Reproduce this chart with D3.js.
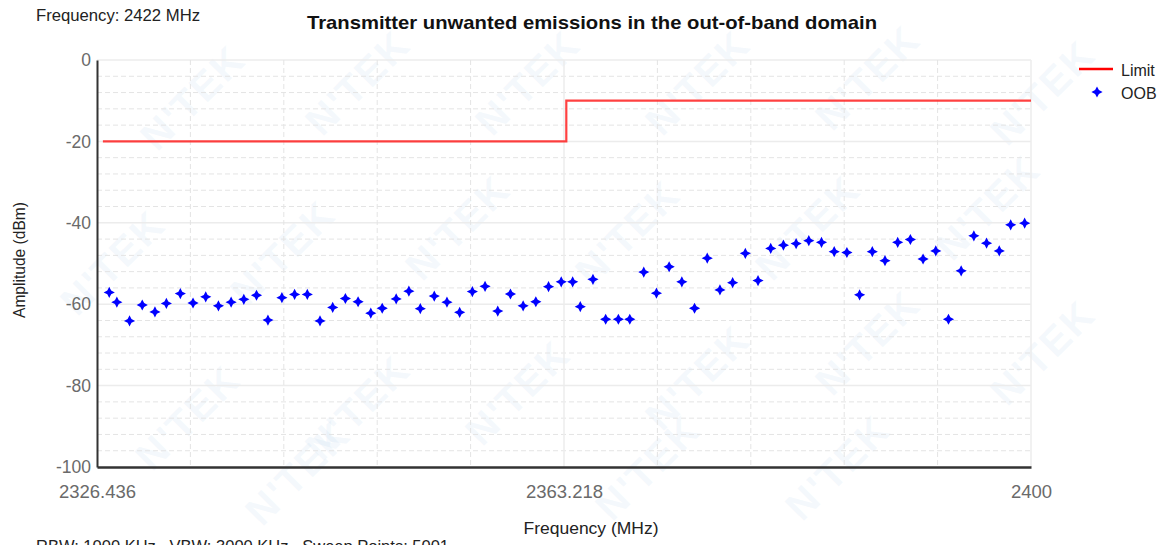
<!DOCTYPE html>
<html>
<head>
<meta charset="utf-8">
<script src="https://cdn.jsdelivr.net/npm/d3@7"></script>
<style>
  html, body { margin: 0; padding: 0; background: #fff; }
  svg { display: block; font-family: "Liberation Sans", Arial, sans-serif; }
  text { white-space: pre; }
</style>
</head>
<body>
<svg id="chart" width="1171" height="545"></svg>
<script>
// Measured OOB peak frequencies (MHz) and amplitudes (dBm)
const oobFreq = [
  2327.4, 2328.0, 2329.0, 2330.0, 2331.0, 2331.9, 2333.0, 2334.0, 2335.0, 2336.0,
  2337.0, 2338.0, 2339.0, 2339.9, 2341.0, 2342.0, 2343.0, 2344.0, 2345.0, 2346.0,
  2347.0, 2348.0, 2348.9, 2350.0, 2351.0, 2351.9, 2353.0, 2354.0, 2355.0, 2356.0,
  2357.0, 2358.0, 2359.0, 2360.0, 2361.0, 2362.0, 2363.0, 2363.9, 2364.5, 2365.5,
  2366.5, 2367.5, 2368.4, 2369.5, 2370.5, 2371.5, 2372.5, 2373.5, 2374.5, 2375.5,
  2376.5, 2377.5, 2378.5, 2379.5, 2380.5, 2381.5, 2382.5, 2383.5, 2384.5, 2385.5,
  2386.5, 2387.5, 2388.5, 2389.5, 2390.5, 2391.5, 2392.5, 2393.5, 2394.5, 2395.5,
  2396.5, 2397.5, 2398.4, 2399.5
];
const oobAmp = [
  -57.1, -59.5, -64.1, -60.2, -61.9, -59.8, -57.4, -59.7, -58.2, -60.4,
  -59.5, -58.8, -57.8, -63.9, -58.4, -57.6, -57.6, -64.1, -60.8, -58.6,
  -59.4, -62.2, -61.0, -58.7, -56.8, -61.1, -58.0, -59.5, -62.0, -56.9,
  -55.6, -61.7, -57.5, -60.4, -59.4, -55.7, -54.5, -54.5, -60.6, -53.9,
  -63.7, -63.7, -63.7, -52.1, -57.3, -50.8, -54.5, -61.0, -48.7, -56.5,
  -54.7, -47.5, -54.2, -46.3, -45.5, -45.1, -44.4, -44.8, -47.1, -47.3,
  -57.7, -47.1, -49.3, -44.8, -44.1, -48.9, -46.9, -63.7, -51.8, -43.2,
  -45.0, -46.9, -40.5, -40.1
];

// Limit mask: breakpoints (MHz) and level (dBm) starting at each breakpoint
const limitFreq = [2326.9, 2363.4, 2400];
const limitAmp = [-20, -10, -10];

// Axis ticks
const xTicks = [2326.436, 2363.218, 2400];
const xTickLabels = ["2326.436", "2363.218", "2400"];
const yTicks = [0, -20, -40, -60, -80, -100];

const svg = d3.select("#chart");

const x = d3.scaleLinear().domain([2326.436, 2400]).range([97, 1031]);
const y = d3.scaleLinear().domain([-100, 0]).range([467, 60]);

// Faint background watermark
const wm = svg.append("g").attr("class", "watermark");
const wmSpots = [
  [195, 100], [360, 85], [530, 85], [700, 85], [870, 80], [1045, 95],
  [115, 265], [285, 255], [460, 230], [630, 235], [810, 230], [990, 210],
  [190, 420], [360, 410], [520, 395], [700, 380], [870, 345], [1045, 355],
  [300, 475], [650, 470], [840, 470]
];
wm.selectAll("text").data(wmSpots).join("text")
  .attr("transform", d => `translate(${d[0]},${d[1]}) rotate(-45)`)
  .attr("text-anchor", "middle")
  .attr("dominant-baseline", "middle")
  .attr("font-size", 40)
  .attr("font-weight", "bold")
  .attr("fill", "#a9cbe8")
  .attr("fill-opacity", 0.13)
  .attr("letter-spacing", 2)
  .text("N'TEK");

// Grid
const grid = svg.append("g").attr("class", "grid");
const yMinor = d3.range(-96, 0, 4).filter(v => v % 20 !== 0);
grid.selectAll("line.ymin").data(yMinor).join("line")
  .attr("x1", x.range()[0]).attr("x2", x.range()[1])
  .attr("y1", d => y(d)).attr("y2", d => y(d))
  .attr("stroke", "#e4e4e4").attr("stroke-width", 1).attr("stroke-dasharray", "5,3");
grid.selectAll("line.ymaj").data(yTicks.filter(v => v !== -100)).join("line")
  .attr("x1", x.range()[0]).attr("x2", x.range()[1])
  .attr("y1", d => y(d)).attr("y2", d => y(d))
  .attr("stroke", "#ececec").attr("stroke-width", 1.5);
const [d0, d1] = x.domain();
const xMinor = d3.range(1, 10).map(i => d0 + (d1 - d0) * i / 10).filter(v => Math.abs(v - xTicks[1]) > 0.1);
grid.selectAll("line.xmin").data(xMinor).join("line")
  .attr("x1", d => x(d)).attr("x2", d => x(d))
  .attr("y1", y(0)).attr("y2", y(-100))
  .attr("stroke", "#e4e4e4").attr("stroke-width", 1).attr("stroke-dasharray", "5,3");
grid.selectAll("line.xmaj").data([xTicks[1], xTicks[2]]).join("line")
  .attr("x1", d => x(d)).attr("x2", d => x(d))
  .attr("y1", y(0)).attr("y2", y(-100))
  .attr("stroke", "#ececec").attr("stroke-width", 1.5);

// Axes
const yAxis = d3.axisLeft(y).tickValues(yTicks).tickSize(0).tickPadding(6)
  .tickFormat(d => String(d));
const gy = svg.append("g").attr("transform", `translate(${x.range()[0]},0)`).call(yAxis);
gy.select(".domain").attr("stroke", "#333").attr("stroke-width", 2);
gy.selectAll("text").attr("font-size", 17.5).attr("fill", "#6a6a6a")
  .attr("font-family", "Liberation Sans, Arial, sans-serif");

const xAxis = d3.axisBottom(x).tickValues(xTicks).tickSize(0).tickPadding(18)
  .tickFormat((d, i) => xTickLabels[i]);
const gx = svg.append("g").attr("transform", `translate(0,${y(-100)})`).call(xAxis);
gx.select(".domain").attr("stroke", "#333").attr("stroke-width", 2.5);
gx.selectAll("text").attr("font-size", 18.5).attr("fill", "#6a6a6a")
  .attr("font-family", "Liberation Sans, Arial, sans-serif");

// Limit line
const limitPts = limitFreq.map((f, i) => [f, limitAmp[i]]);
svg.append("path")
  .datum(limitPts)
  .attr("d", d3.line().x(d => x(d[0])).y(d => y(d[1])).curve(d3.curveStepAfter))
  .attr("fill", "none").attr("stroke", "#ff2020").attr("stroke-opacity", 0.85).attr("stroke-width", 2.2);

// Four-pointed star marker
const star4 = {
  draw(ctx, size) {
    const r = Math.sqrt(size) / 2, k = r * 0.34;
    ctx.moveTo(0, -r); ctx.lineTo(k, -k); ctx.lineTo(r, 0); ctx.lineTo(k, k);
    ctx.lineTo(0, r); ctx.lineTo(-k, k); ctx.lineTo(-r, 0); ctx.lineTo(-k, -k);
    ctx.closePath();
  }
};
const sym = d3.symbol().type(star4).size(125);
svg.append("g").selectAll("path").data(oobFreq.map((f, i) => [f, oobAmp[i]])).join("path")
  .attr("transform", d => `translate(${x(d[0])},${y(d[1])})`)
  .attr("d", sym).attr("fill", "#0000ff");

// Titles and annotations
svg.append("text").attr("x", 592).attr("y", 29).attr("text-anchor", "middle")
  .attr("font-size", 18.5).attr("font-weight", "bold").attr("fill", "#111")
  .attr("textLength", 570).attr("lengthAdjust", "spacingAndGlyphs")
  .text("Transmitter unwanted emissions in the out-of-band domain");
svg.append("text").attr("x", 36).attr("y", 21)
  .attr("font-size", 16).attr("fill", "#222")
  .attr("textLength", 164).attr("lengthAdjust", "spacingAndGlyphs")
  .text("Frequency: 2422 MHz");
svg.append("text").attr("x", 591).attr("y", 534).attr("text-anchor", "middle")
  .attr("font-size", 17).attr("fill", "#222")
  .attr("textLength", 135).attr("lengthAdjust", "spacingAndGlyphs")
  .text("Frequency (MHz)");
svg.append("text").attr("transform", "translate(25,260) rotate(-90)").attr("text-anchor", "middle")
  .attr("font-size", 16).attr("fill", "#222")
  .attr("textLength", 116).attr("lengthAdjust", "spacingAndGlyphs")
  .text("Amplitude (dBm)");
svg.append("text").attr("x", 36).attr("y", 552)
  .attr("font-size", 16).attr("fill", "#222")
  .attr("textLength", 413).attr("lengthAdjust", "spacingAndGlyphs")
  .text("RBW: 1000 KHz   VBW: 3000 KHz   Sweep Points: 5001");

// Legend
const lg = svg.append("g");
lg.append("line").attr("x1", 1079).attr("x2", 1113).attr("y1", 69).attr("y2", 69)
  .attr("stroke", "#ff0000").attr("stroke-width", 2.5);
lg.append("text").attr("x", 1121).attr("y", 76).attr("font-size", 16).attr("fill", "#222").text("Limit");
lg.append("path").attr("transform", "translate(1097,92)").attr("d", sym).attr("fill", "#0000ff");
lg.append("text").attr("x", 1121).attr("y", 99).attr("font-size", 16).attr("fill", "#222").text("OOB");
</script>
</body>
</html>
